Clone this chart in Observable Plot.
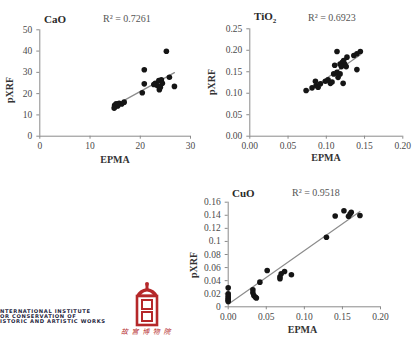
<!DOCTYPE html>
<html><head><meta charset="utf-8">
<script src="https://cdn.jsdelivr.net/npm/d3@7"></script>
<script src="https://cdn.jsdelivr.net/npm/@observablehq/plot@0.6"></script>
<style>
body{margin:0;background:#fff}
#root{position:relative;width:414px;height:337px;overflow:hidden;background:#fff;font-family:"Liberation Serif",serif}
.panel{position:absolute}
.t{position:absolute;white-space:nowrap;line-height:1}
.ttl{font-weight:bold;font-size:11px;color:#2a2a2a;transform:translateY(-50%)}
.r2{font-size:10px;color:#555;transform:translateY(-50%)}
.lab{font-weight:bold;font-size:10px;color:#333;transform:translate(-50%,-50%)}
.rot{transform:translate(-50%,-50%) rotate(-90deg)}
.iic{position:absolute;left:0px;font-family:"DejaVu Sans",sans-serif;font-weight:bold;font-size:5.2px;line-height:5px;color:#1f2640;white-space:nowrap;letter-spacing:0.62px}
</style></head>
<body><div id="root"></div>
<script>
// ---- data ----
const caoEPMA = [25.2, 20.8, 20.8, 20.4, 25.8, 26.8, 23.0, 23.7, 24.2, 23.4, 23.8, 24.0, 22.7, 24.4, 14.8, 14.9, 15.2, 15.5, 15.8, 16.3, 16.8, 15.0, 15.6];
const caoPXRF = [39.9, 31.2, 24.6, 20.4, 27.7, 23.4, 24.9, 26.2, 26.5, 23.8, 21.8, 23.0, 24.3, 24.9, 13.2, 14.5, 15.2, 14.2, 15.5, 15.1, 16.0, 13.8, 15.0];
const tiEPMA = [0.0736, 0.0814, 0.0867, 0.0858, 0.0893, 0.0923, 0.0988, 0.1023, 0.1054, 0.1075, 0.1097, 0.114, 0.1154, 0.118, 0.122, 0.114, 0.111, 0.118, 0.121, 0.124, 0.127, 0.1227, 0.1197, 0.136, 0.140, 0.1445, 0.140, 0.126];
const tiPXRF = [0.1064, 0.1126, 0.118, 0.128, 0.114, 0.122, 0.128, 0.131, 0.123, 0.126, 0.145, 0.149, 0.137, 0.145, 0.123, 0.197, 0.165, 0.168, 0.172, 0.168, 0.184, 0.176, 0.162, 0.188, 0.192, 0.197, 0.155, 0.162];
const cuEPMA = [0, 0, 0, 0, 0, 0, 0, 0.0324, 0.0324, 0.0337, 0.0359, 0.037, 0.0416, 0.0512, 0.068, 0.068, 0.0696, 0.074, 0.083, 0.129, 0.1405, 0.152, 0.158, 0.160, 0.1616, 0.173];
const cuPXRF = [0.029, 0.020, 0.017, 0.014, 0.012, 0.010, 0.008, 0.026, 0.0214, 0.0173, 0.0147, 0.0135, 0.0377, 0.0555, 0.046, 0.043, 0.0505, 0.054, 0.049, 0.1065, 0.1390, 0.147, 0.1386, 0.142, 0.1447, 0.1396];

const caoXTicks = [0, 10, 20, 30], caoYTicks = [0, 10, 20, 30, 40, 50];
const tiXTicks = [0, 0.05, 0.10, 0.15, 0.20], tiYTicks = [0, 0.05, 0.10, 0.15, 0.20, 0.25];
const cuXTicks = [0, 0.05, 0.10, 0.15, 0.20], cuYTicks = [0, 0.02, 0.04, 0.06, 0.08, 0.10, 0.12, 0.14, 0.16];
const titles = ["CaO", "TiO", "CuO"];
const r2 = ["R² = 0.7261", "R² = 0.6923", "R² = 0.9518"];
const axisLabelX = "EPMA", axisLabelY = "pXRF";
const logoLines = ["NTERNATIONAL INSTITUTE", "OR CONSERVATION OF", "ISTORIC AND ARTISTIC WORKS"];
const museumName = "故宫博物院";

const root = document.getElementById("root");

function panel({xs, ys, xd, yd, xt, yt, xf, yf, left, top, width, height, mt, mb, ml, mr}) {
  const data = xs.map((x, i) => ({x, y: ys[i]}));
  const p = Plot.plot({
    width, height, marginTop: mt, marginBottom: mb, marginLeft: ml, marginRight: mr,
    x: {domain: xd}, y: {domain: yd},
    style: {fontFamily: "'Liberation Serif', serif", fontSize: "9.5px", color: "#4a4a4a", background: "transparent", overflow: "visible"},
    marks: [
      Plot.axisX({ticks: xt, tickFormat: xf, tickSize: 3, tickPadding: 3, label: null, stroke: "#8a8a8a"}),
      Plot.axisY({ticks: yt, tickFormat: yf, tickSize: 3, tickPadding: 4.5, label: null, stroke: "#8a8a8a"}),
      Plot.ruleY([yd[0]], {stroke: "#8a8a8a"}),
      Plot.ruleX([xd[0]], {stroke: "#8a8a8a"}),
      Plot.linearRegressionY(data, {x: "x", y: "y", ci: 0, stroke: "#8c8c8c", strokeWidth: 1.2}),
      Plot.dot(data, {x: "x", y: "y", r: 2.8, fill: "#151515", stroke: "none"})
    ]
  });
  p.classList.add("panel");
  p.style.left = left + "px"; p.style.top = top + "px";
  root.appendChild(p);
}

const f2 = d3.format(".2f");
panel({xs: caoEPMA, ys: caoPXRF, xd: [0, 30], yd: [0, 50], xt: caoXTicks, yt: caoYTicks, xf: d3.format("d"), yf: d3.format("d"),
  left: 0, top: 20, width: 200, height: 145, mt: 9.3, mb: 29.3, ml: 39.3, mr: 10});
panel({xs: tiEPMA, ys: tiPXRF, xd: [0, 0.2], yd: [0, 0.25], xt: tiXTicks, yt: tiYTicks, xf: f2, yf: f2,
  left: 205, top: 20, width: 209, height: 145, mt: 8.3, mb: 29.3, ml: 44.3, mr: 11.7});
panel({xs: cuEPMA, ys: cuPXRF, xd: [0, 0.2], yd: [0, 0.16], xt: cuXTicks, yt: cuYTicks, xf: f2, yf: d => String(+d.toFixed(2)),
  left: 180, top: 190, width: 220, height: 140, mt: 11.7, mb: 23.7, ml: 47.7, mr: 20});

function txt(cls, html, x, y) {
  const d = document.createElement("div");
  d.className = "t " + cls; d.innerHTML = html;
  d.style.left = x + "px"; d.style.top = y + "px";
  root.appendChild(d);
}
// titles and R²
txt("ttl", titles[0], 44, 19);
txt("r2", r2[0], 103, 19);
txt("ttl", titles[1] + "<sub style='font-size:7px'>2</sub>", 254, 18);
txt("r2", r2[1], 308, 18);
txt("ttl", titles[2], 232, 193);
txt("r2", r2[2], 292, 193);
// axis labels
txt("lab rot", axisLabelY, 10, 90);
txt("lab", axisLabelX, 115, 160);
txt("lab rot", axisLabelY, 212, 82);
txt("lab", axisLabelX, 326, 158);
txt("lab rot", axisLabelY, 193.5, 265);
txt("lab", axisLabelX, 302.5, 330);

// institutional logos
const iic = document.createElement("div");
iic.className = "iic"; iic.style.top = "309px";
iic.innerHTML = logoLines.join("<br>");
root.appendChild(iic);

const logo = document.createElementNS("http://www.w3.org/2000/svg", "svg");
logo.setAttribute("width", 28); logo.setAttribute("height", 46); logo.setAttribute("viewBox", "0 0 28 46");
logo.style.position = "absolute"; logo.style.left = "133px"; logo.style.top = "281px";
logo.innerHTML = `
  <circle cx="14" cy="3" r="2" fill="#b5282a"/>
  <rect x="12.5" y="4" width="3" height="4" fill="#b5282a"/>
  <path d="M3 15 Q6 8 14 7 Q22 8 25 15 Z" fill="#b5282a"/>
  <path d="M8 13.5 Q11 10.5 14 10.5 Q17 10.5 20 13.5 Z" fill="#fff"/>
  <rect x="4" y="15" width="20" height="29" fill="none" stroke="#b5282a" stroke-width="2.6"/>
  <rect x="9" y="19" width="10" height="9" fill="none" stroke="#b5282a" stroke-width="2"/>
  <rect x="9" y="31" width="10" height="9" fill="none" stroke="#b5282a" stroke-width="2"/>`;
root.appendChild(logo);

const cn = document.createElement("div");
cn.className = "t";
cn.style.cssText = "left:121px;top:328px;font-family:'Noto Sans CJK SC',sans-serif;font-size:7px;color:#b5282a;letter-spacing:3.6px;font-style:italic";
cn.textContent = museumName;
root.appendChild(cn);
</script>
</body></html>
